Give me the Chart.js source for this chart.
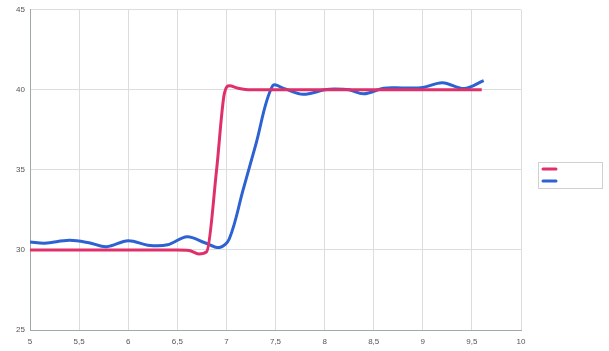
<!DOCTYPE html>
<html>
<head>
<meta charset="utf-8">
<script src="https://cdn.jsdelivr.net/npm/chart.js@4/dist/chart.umd.min.js"></script>
<style>
  body { margin: 0; background: #fff; }
  #wrap { width: 609px; height: 351px; }
</style>
</head>
<body>
<div id="wrap"><canvas id="chart" width="609" height="351"></canvas></div>
<script>
// values
const redX = [5.0, 6.5, 6.62, 6.72, 6.8, 6.9, 6.98, 7.03, 7.12, 7.25, 9.6];
const redY = [30.0, 30.0, 29.97, 29.75, 29.9, 35.0, 39.8, 40.25, 40.1, 40.0, 40.0];

const blueX = [5.0, 5.15, 5.4, 5.6, 5.78, 6.0, 6.2, 6.4, 6.6, 6.78, 6.93, 7.03, 7.17, 7.3, 7.47, 7.6, 7.78, 8.0, 8.1, 8.25, 8.4, 8.6, 8.8, 9.0, 9.2, 9.42, 9.62];
const blueY = [30.5, 30.42, 30.6, 30.45, 30.2, 30.58, 30.3, 30.32, 30.83, 30.45, 30.15, 30.7, 33.75, 36.6, 40.25, 40.05, 39.72, 40.0, 40.05, 40.0, 39.75, 40.1, 40.12, 40.15, 40.45, 40.08, 40.58];

const xTicks = [5, 5.5, 6, 6.5, 7, 7.5, 8, 8.5, 9, 9.5, 10];
const yTicks = [25, 30, 35, 40, 45];

const redColor = '#e0306a';
const blueColor = '#2c62d2';

function toPoints(xs, ys) {
    return xs.map((x, i) => ({x: x, y: ys[i]}));
}

function commaLabel(value) {
    return String(value).replace('.', ',');
}

// small framed legend with line samples, no labels
const legendBox = {
    id: 'legendBox',
    afterDraw(chart) {
        const ctx = chart.ctx;
        ctx.save();
        ctx.strokeStyle = '#d0d0d0';
        ctx.lineWidth = 1;
        ctx.strokeRect(538.5, 162.5, 64, 26);
        chart.data.datasets.forEach((ds, i) => {
            ctx.strokeStyle = ds.borderColor;
            ctx.lineWidth = 3;
            ctx.lineCap = 'round';
            ctx.beginPath();
            ctx.moveTo(543, 169 + i * 12);
            ctx.lineTo(556, 169 + i * 12);
            ctx.stroke();
        });
        ctx.restore();
    }
};

const data = {
    datasets: [
        {
            label: '',
            data: toPoints(redX, redY),
            borderColor: redColor,
            borderWidth: 3,
            pointRadius: 0,
            cubicInterpolationMode: 'monotone',
            fill: false
        },
        {
            label: '',
            data: toPoints(blueX, blueY),
            borderColor: blueColor,
            borderWidth: 3,
            pointRadius: 0,
            tension: 0.35,
            fill: false
        }
    ]
};

const config = {
    type: 'line',
    data: data,
    options: {
        responsive: false,
        animation: false,
        layout: {
            padding: {top: 9, right: 88, left: 0, bottom: 0}
        },
        plugins: {
            legend: {display: false},
            tooltip: {enabled: false}
        },
        scales: {
            x: {
                type: 'linear',
                min: 5,
                max: 10,
                afterBuildTicks: (scale) => {
                    scale.ticks = xTicks.map(v => ({value: v}));
                },
                afterFit: (scale) => { scale.height = 21; },
                grid: {color: '#dddddd', drawTicks: false},
                border: {color: '#9fa9a9', width: 1},
                ticks: {
                    padding: 7,
                    color: '#555',
                    font: {family: 'Liberation Sans', size: 8},
                    callback: commaLabel
                }
            },
            y: {
                min: 25,
                max: 45,
                afterBuildTicks: (scale) => {
                    scale.ticks = yTicks.map(v => ({value: v}));
                },
                afterFit: (scale) => { scale.width = 30; },
                grid: {color: '#dddddd', drawTicks: false},
                border: {color: '#9fa9a9', width: 1},
                ticks: {
                    padding: 5,
                    color: '#555',
                    font: {family: 'Liberation Sans', size: 8},
                    callback: commaLabel
                }
            }
        }
    },
    plugins: [legendBox]
};

const ctx = document.getElementById('chart').getContext('2d');
const myChart = new Chart(ctx, config);
</script>
</body>
</html>
